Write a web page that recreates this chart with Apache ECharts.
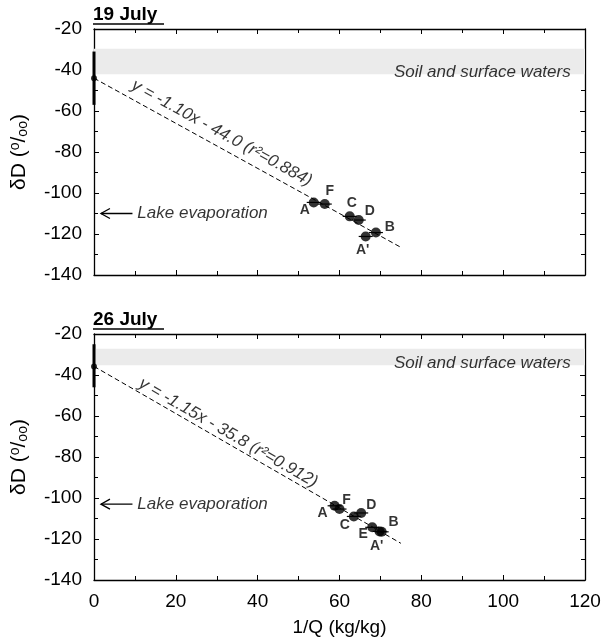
<!DOCTYPE html>
<html>
<head>
<meta charset="utf-8">
<script src="https://cdn.jsdelivr.net/npm/echarts@6/dist/echarts.min.js"></script>
<style>
  html, body { margin: 0; padding: 0; background: #fff; }
  #main { width: 604px; height: 642px; }
</style>
</head>
<body>
<div id="main"></div>
<script>
// 数据
var panelTitles = ['19 July', '26 July'];

var names19 = ['A', 'F', 'C', 'D', "A'", 'B'];
var x19 = [53.7, 56.4, 62.5, 64.7, 66.4, 68.9];
var y19 = [-104.6, -105.4, -111.4, -113.2, -121.2, -119.3];

var names26 = ['A', 'F', 'C', 'D', 'E', "A'", 'B'];
var x26 = [58.8, 60.0, 63.5, 65.3, 68.0, 69.8, 70.3];
var y26 = [-103.8, -105.4, -109.0, -107.3, -114.3, -116.3, -116.5];

// 回归线端点
var fit19 = [[0, -44.0], [75, -126.5]];
var fit26 = [[0, -35.8], [75, -122.1]];
var eq19 = 'y = -1.10x - 44.0 (r²=0.884)';
var eq26 = 'y = -1.15x - 35.8 (r²=0.912)';
var eqAt19 = [31.2, -70.8];
var eqAt26 = [32.8, -68.2];

// x=0 处的竖条
var range19 = [-31, -57];
var range26 = [-25, -46];

// 灰色带
var band19 = [-29.6, -42.1];
var band26 = [-27.2, -35.3];

var lakeY19 = -110;
var lakeY26 = -103;

var xTicks = [0, 20, 40, 60, 80, 100, 120];
var yTicks = [-140, -120, -100, -80, -60, -40, -20];

// 标签偏移
var offs19 = { 'A': [-9, 8], 'F': [5, -13], 'C': [2, -13], 'D': [11, -9], "A'": [-3, 14], 'B': [14, -5] };
var offs26 = { 'A': [-12, 7], 'F': [7, -9], 'C': [-9, 9], 'D': [10, -8], 'E': [-9, 7], "A'": [-3, 15], 'B': [12, -10] };

var FONT = "'Liberation Sans', Arial, sans-serif";
var myChart = echarts.init(document.getElementById('main'));

function axisBase(show) {
  return {
    min: xTicks[0], max: xTicks[xTicks.length - 1], interval: 20,
    axisLine: { onZero: false, lineStyle: { color: '#000', width: 1.3 } },
    axisTick: { inside: true, length: 5, lineStyle: { color: '#000' } },
    minorTick: { show: true, splitNumber: 2, length: 4, lineStyle: { color: '#000' } },
    splitLine: { show: false },
    axisLabel: { show: show, color: '#000', fontSize: 19, fontFamily: FONT, margin: 12 }
  };
}

var grids = [
  { left: 93, top: 29, width: 492, height: 246 },
  { left: 93, top: 334, width: 492, height: 246 }
];

var xAxes = [], yAxes = [], series = [];

function addPanel(i, names, xs, ys, offs, fit, eq, eqAt, range, band, lakeY) {
  var xb = axisBase(i === 1);
  xb.gridIndex = i; xb.type = 'value'; xb.position = 'bottom';
  if (i === 1) {
    xb.name = '1/Q (kg/kg)'; xb.nameLocation = 'middle'; xb.nameGap = 38;
    xb.nameTextStyle = { color: '#000', fontSize: 19, fontFamily: FONT };
  }
  var xt = axisBase(false);
  xt.gridIndex = i; xt.type = 'value'; xt.position = 'top';
  xAxes.push(xb, xt);

  var yl = axisBase(true);
  yl.gridIndex = i; yl.type = 'value'; yl.position = 'left';
  yl.min = yTicks[0]; yl.max = yTicks[yTicks.length - 1];
  yl.name = '{a|δD (}{s|o}{a|/}{b|oo}{a|)}';
  yl.nameLocation = 'middle'; yl.nameGap = 63; yl.nameRotate = 90;
  yl.nameTextStyle = {
    color: '#000', fontFamily: FONT,
    rich: {
      a: { fontSize: 21, fontFamily: FONT, color: '#000' },
      s: { fontSize: 14, fontFamily: FONT, color: '#000', padding: [0, 0, 9, 0] },
      b: { fontSize: 14, fontFamily: FONT, color: '#000', padding: [7, 0, 0, 0] }
    }
  };
  var yr = axisBase(false);
  yr.gridIndex = i; yr.type = 'value'; yr.position = 'right';
  yr.min = yTicks[0]; yr.max = yTicks[yTicks.length - 1];
  yAxes.push(yl, yr);

  var xi = 2 * i, yi = 2 * i;

  // 回归线 + 灰色带
  series.push({
    type: 'line', xAxisIndex: xi, yAxisIndex: yi, data: fit, symbol: 'none', silent: true,
    lineStyle: { color: '#000', width: 1, type: [5, 3] }, z: 3,
    markArea: {
      silent: true, itemStyle: { color: '#ebebeb' },
      data: [[{ yAxis: band[0] }, { yAxis: band[1] }]]
    }
  });
  // x=0 竖条
  series.push({
    type: 'line', xAxisIndex: xi, yAxisIndex: yi, clip: false, symbol: 'none', silent: true,
    data: [[0, range[0]], [0, range[1]]], lineStyle: { color: '#000', width: 3 }, z: 4
  });
  series.push({
    type: 'scatter', xAxisIndex: xi, yAxisIndex: yi, clip: false, silent: true,
    data: [fit[0]], symbolSize: 6, itemStyle: { color: '#000' }, z: 5
  });
  // 误差棒
  series.push({
    type: 'custom', xAxisIndex: xi, yAxisIndex: yi, silent: true, z: 4,
    data: xs.map(function (x, k) { return [x, ys[k]]; }),
    renderItem: function (params, api) {
      var p = api.coord([api.value(0), api.value(1)]);
      return { type: 'line', shape: { x1: p[0] - 7, y1: p[1], x2: p[0] + 7, y2: p[1] },
        style: { stroke: '#000', lineWidth: 1.2 } };
    }
  });
  // 数据点
  series.push({
    type: 'scatter', xAxisIndex: xi, yAxisIndex: yi, symbolSize: 10, z: 6,
    itemStyle: { color: '#000' },
    data: xs.map(function (x, k) {
      return { name: names[k], value: [x, ys[k]], label: { offset: offs[names[k]] } };
    }),
    label: {
      show: true, position: 'inside', formatter: '{b}', color: '#000',
      fontSize: 14, fontWeight: 'bold', fontFamily: FONT, textBorderWidth: 0
    }
  });
  // 注释文字
  var ang = Math.atan2((fit[0][1] - fit[1][1]) * 2.05, (fit[1][0] - fit[0][0]) * 4.1) * 180 / Math.PI;
  series.push({
    type: 'scatter', xAxisIndex: xi, yAxisIndex: yi, symbolSize: 0, silent: true, z: 7,
    data: [
      { value: [116.5, band[1] + 1.2], label: { formatter: 'Soil and surface waters', position: 'left', distance: 0 } },
      { value: [10.6, lakeY], label: { formatter: 'Lake evaporation', position: 'right', distance: 0 } },
      { value: eqAt, label: { formatter: eq, position: 'inside', rotate: -ang } }
    ],
    label: {
      show: true, color: '#000', fontSize: 17, fontStyle: 'italic', fontFamily: FONT,
      textBorderWidth: 0
    }
  });
  // 箭头
  series.push({
    type: 'custom', xAxisIndex: xi, yAxisIndex: yi, silent: true, z: 7,
    data: [[1.7, 9.4, lakeY]],
    renderItem: function (params, api) {
      var a = api.coord([api.value(0), api.value(2)]);
      var b = api.coord([api.value(1), api.value(2)]);
      var st = { stroke: '#000', lineWidth: 1.3, fill: null };
      return { type: 'group', children: [
        { type: 'line', shape: { x1: a[0], y1: a[1], x2: b[0], y2: b[1] }, style: st },
        { type: 'polyline', shape: { points: [[a[0] + 9, a[1] - 5], [a[0], a[1]], [a[0] + 9, a[1] + 5]] }, style: st }
      ] };
    }
  });
}

addPanel(0, names19, x19, y19, offs19, fit19, eq19, eqAt19, range19, band19, lakeY19);
addPanel(1, names26, x26, y26, offs26, fit26, eq26, eqAt26, range26, band26, lakeY26);

var titleGraphics = [];
[[5, 24], [310, 329]].forEach(function (pos, i) {
  titleGraphics.push({
    type: 'text', left: 93, top: pos[0],
    style: { text: panelTitles[i], fill: '#000', font: 'bold 19px ' + FONT }
  });
  titleGraphics.push({
    type: 'line', shape: { x1: 93, y1: pos[1], x2: 164, y2: pos[1] },
    style: { stroke: '#000', lineWidth: 1.5 }
  });
});

var option = {
  animation: false,
  backgroundColor: '#fff',
  grid: grids,
  xAxis: xAxes,
  yAxis: yAxes,
  series: series,
  graphic: titleGraphics
};

myChart.setOption(option);
window.onresize = function () {
  myChart.resize();
};
</script>
</body>
</html>
